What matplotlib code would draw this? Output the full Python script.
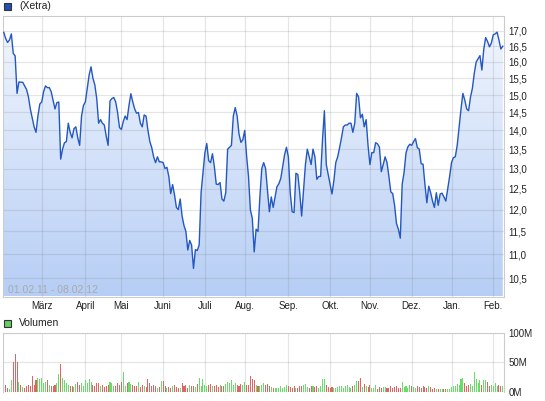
import matplotlib.pyplot as plt
import numpy as np
import pandas as pd
from matplotlib.patches import Rectangle, Polygon
from matplotlib.colors import LinearSegmentedColormap
from matplotlib.ticker import NullLocator, NullFormatter

plt.rcParams['font.family'] = ['Liberation Sans', 'DejaVu Sans']

# Xetra trading days 01.02.11 - 08.02.12
holidays = ["2011-04-22", "2011-04-25", "2011-12-26"]
days = pd.bdate_range("2011-02-01", "2012-02-08")
days = days[~days.isin(pd.to_datetime(holidays))]

# closing prices (EUR)
price = [
    16.95, 16.75, 16.62, 16.7, 16.9, 16.27, 16.19, 15.05, 15.39, 15.38,
    15.38, 15.27, 15.17, 14.95, 14.6, 14.35, 14.1, 13.95, 14.4, 14.74,
    14.8, 15.1, 15.27, 15.22, 15.22, 15.1, 14.85, 14.6, 14.78, 14.8,
    13.24, 13.5, 13.67, 13.7, 14.2, 13.95, 13.8, 14.05, 14.1, 13.8,
    13.6, 14.4, 14.7, 14.8, 15.2, 15.6, 15.85, 15.5, 15.3, 14.9,
    14.2, 14.3, 14.2, 14.15, 13.85, 13.6, 14.83, 14.9, 14.93, 14.8,
    14.5, 14.08, 14.03, 14.25, 14.4, 14.3, 14.7, 15.04, 14.8, 14.6,
    14.48, 14.5, 14.2, 14.1, 14.43, 14.4, 14.0, 13.7, 13.54, 13.3,
    13.15, 13.3, 13.17, 13.17, 13.15, 13.0, 13.03, 12.8, 12.38, 12.6,
    12.35, 12.05, 12.0, 12.25, 11.85, 11.63, 11.5, 11.09, 11.3, 11.2,
    10.7, 11.1, 11.08, 11.2, 12.4, 12.9, 13.4, 13.65, 13.2, 13.15,
    13.38, 13.05, 12.61, 12.6, 12.65, 12.25, 12.2, 12.4, 13.5, 13.55,
    13.6, 14.4, 14.64, 14.4, 13.9, 13.68, 13.75, 14.0, 13.32, 12.8,
    11.99, 11.8, 11.05, 11.55, 11.5, 12.3, 13.0, 13.15, 13.0, 12.45,
    11.95, 12.3, 12.05, 12.3, 12.55, 12.62, 12.75, 13.05, 13.35, 13.55,
    13.3, 12.4, 11.95, 11.93, 12.88, 12.85, 12.4, 11.85, 12.45, 13.1,
    13.5, 13.3, 13.1, 13.5, 13.3, 12.73, 12.8, 12.8, 13.75, 14.55,
    13.1, 12.85, 12.6, 12.37, 12.7, 13.15, 13.3, 13.54, 13.8, 14.1,
    14.15, 14.15, 14.2, 14.2, 13.95, 14.2, 15.05, 14.95, 14.35, 14.45,
    14.1, 14.3, 13.6, 13.1, 13.41, 13.41, 13.67, 13.64, 13.55, 12.92,
    13.1, 13.3, 13.15, 12.8, 12.42, 12.38, 12.1, 11.68, 11.55, 11.35,
    12.61, 12.9, 13.4, 13.56, 13.63, 13.6, 13.7, 13.78, 13.54, 13.5,
    13.12, 13.11, 12.6, 12.16, 12.56, 12.4, 12.2, 12.05, 12.4, 12.1,
    12.37, 12.39, 12.3, 12.2, 12.5, 12.8, 13.15, 13.28, 13.3, 13.6,
    14.1, 14.6, 15.05, 14.85, 14.6, 14.55, 14.94, 15.2, 15.65, 16.0,
    16.1, 16.2, 15.75, 16.4, 16.78, 16.65, 16.48, 16.6, 16.87, 16.9,
    16.96, 16.7, 16.41, 16.5,
]

# daily volume in millions
volume = [
    7, 12, 6, 4, 20, 50, 64, 51, 17, 11,
    8, 6, 9, 11, 10, 26, 12, 19, 24, 21,
    23, 15, 17, 19, 11, 9, 10, 12, 15, 30,
    47, 24, 19, 14, 11, 10, 9, 8, 13, 16,
    12, 14, 10, 20, 14, 21, 16, 11, 10, 15,
    14, 9, 12, 8, 10, 12, 16, 14, 10, 9,
    15, 12, 17, 34, 10, 14, 17, 13, 11, 9,
    10, 17, 8, 11, 9, 8, 21, 14, 9, 12,
    10, 7, 8, 18, 18, 9, 7, 8, 6, 10,
    12, 8, 7, 6, 14, 9, 12, 7, 11, 10,
    9, 8, 13, 23, 9, 21, 12, 10, 11, 13,
    9, 9, 11, 8, 12, 10, 9, 13, 17, 14,
    20, 12, 14, 11, 10, 13, 12, 17, 12, 12,
    27, 21, 19, 11, 10, 9, 12, 14, 12, 13,
    9, 8, 7, 6, 7, 6, 10, 7, 8, 11,
    10, 8, 7, 9, 6, 7, 10, 9, 12, 13,
    8, 7, 10, 9, 8, 9, 7, 9, 21, 21,
    12, 8, 7, 8, 7, 6, 8, 9, 10, 7,
    9, 12, 8, 7, 10, 12, 18, 18, 24, 8,
    13, 9, 8, 11, 7, 6, 12, 4, 8, 6,
    8, 8, 7, 6, 9, 7, 8, 9, 6, 6,
    17, 8, 10, 7, 11, 9, 8, 7, 10, 8,
    7, 9, 8, 6, 9, 8, 5, 6, 5, 5,
    4, 5, 5, 4, 4, 5, 8, 9, 10, 13,
    12, 21, 24, 15, 9, 11, 13, 9, 34, 21,
    14, 20, 12, 19, 20, 17, 9, 12, 10, 14,
    9, 12, 10, 9,
]

month_labels = ["März", "April", "Mai", "Juni", "Juli", "Aug.", "Sep.",
                "Okt.", "Nov.", "Dez.", "Jan.", "Feb."]
price_ticks = np.arange(10.5, 17.01, 0.5)
vol_ticks = [0, 50, 100]
vol_labels = ["0M", "50M", "100M"]

x = np.arange(len(days))
month_pos = [i for i in range(1, len(days)) if days[i].month != days[i - 1].month]

W, H = 545, 401
fig = plt.figure(figsize=(W / 100, H / 100), dpi=100)


def box(l, t, r, b):
    return [l / W, 1 - b / H, (r - l) / W, (b - t) / H]


grid_kw = dict(color="#808080", alpha=0.2, lw=0.9)
text_c = "#222222"
edge_c = "#cccccc"

# --- price panel ---
ax = fig.add_axes(box(3, 16, 503.5, 296.5))
ax.set_yscale("log")
ax.set_autoscale_on(False)
ax.set_xlim(-0.4, 263.4)
ax.set_ylim(10.13, 17.5)

cmap = LinearSegmentedColormap.from_list("fill", ["#b6cef5", "#f3f7fe"])
grad = np.linspace(0, 1, 256).reshape(-1, 1)
im = ax.imshow(grad, extent=[0, 1, 0, 1], transform=ax.transAxes, origin="lower",
               cmap=cmap, aspect="auto", zorder=1)
verts = list(zip(x, price)) + [(x[-1], 1.0), (x[0], 1.0)]
clip = Polygon(verts, closed=True, facecolor="none", edgecolor="none",
               transform=ax.transData)
ax.add_patch(clip)
im.set_clip_path(clip)

ax.plot(x, price, color="#2458c0", lw=1.0, zorder=3)

ax.yaxis.tick_right()
ax.set_yticks(price_ticks)
ax.set_yticklabels([f"{v:.1f}".replace(".", ",") for v in price_ticks])
ax.yaxis.set_minor_locator(NullLocator())
ax.yaxis.set_minor_formatter(NullFormatter())
ax.set_xticks(month_pos)
ax.set_xticklabels(month_labels)
ax.tick_params(axis="both", length=0, labelsize=7, colors=text_c)
ax.tick_params(axis="x", pad=3)
ax.tick_params(axis="y", pad=3.5)
ax.grid(True, **grid_kw)
for s in ax.spines.values():
    s.set_color(edge_c)
ax.text(0.009, 0.024, "01.02.11 - 08.02.12", transform=ax.transAxes,
        color="#aaaaaa", fontsize=7.5, va="center", ha="left", zorder=4)

# --- volume panel ---
axv = fig.add_axes(box(3, 332.7, 503.5, 391.7))
colors = ["#66dd66" if i == 0 or price[i] >= price[i - 1] else "#e06464"
          for i in range(len(price))]
axv.bar(x, volume, width=0.55, color=colors, zorder=2)
axv.set_xlim(-0.4, 263.4)
axv.set_ylim(0, 100)
axv.yaxis.tick_right()
axv.set_yticks(vol_ticks)
axv.set_yticklabels(vol_labels)
axv.set_xticks(month_pos)
axv.set_xticklabels([])
axv.tick_params(axis="both", length=0, labelsize=7, colors=text_c, pad=3.5)
axv.grid(True, **grid_kw)
for s in axv.spines.values():
    s.set_color(edge_c)
axv.spines["bottom"].set_visible(False)

# --- legends ---
fig.add_artist(Rectangle((4 / W, 1 - 10 / H), 7 / W, 7 / H, transform=fig.transFigure,
                         facecolor="#1f50b5", edgecolor="#333333", lw=0.8))
fig.text(19 / W, 1 - 6 / H, "(Xetra)", fontsize=7.5, va="center", color=text_c)
fig.add_artist(Rectangle((4 / W, 1 - 327 / H), 7 / W, 7 / H, transform=fig.transFigure,
                         facecolor="#66cc66", edgecolor="#333333", lw=0.8))
fig.text(19 / W, 1 - 323.5 / H, "Volumen", fontsize=7.5, va="center", color=text_c)

fig.savefig("out.png", dpi=100)
